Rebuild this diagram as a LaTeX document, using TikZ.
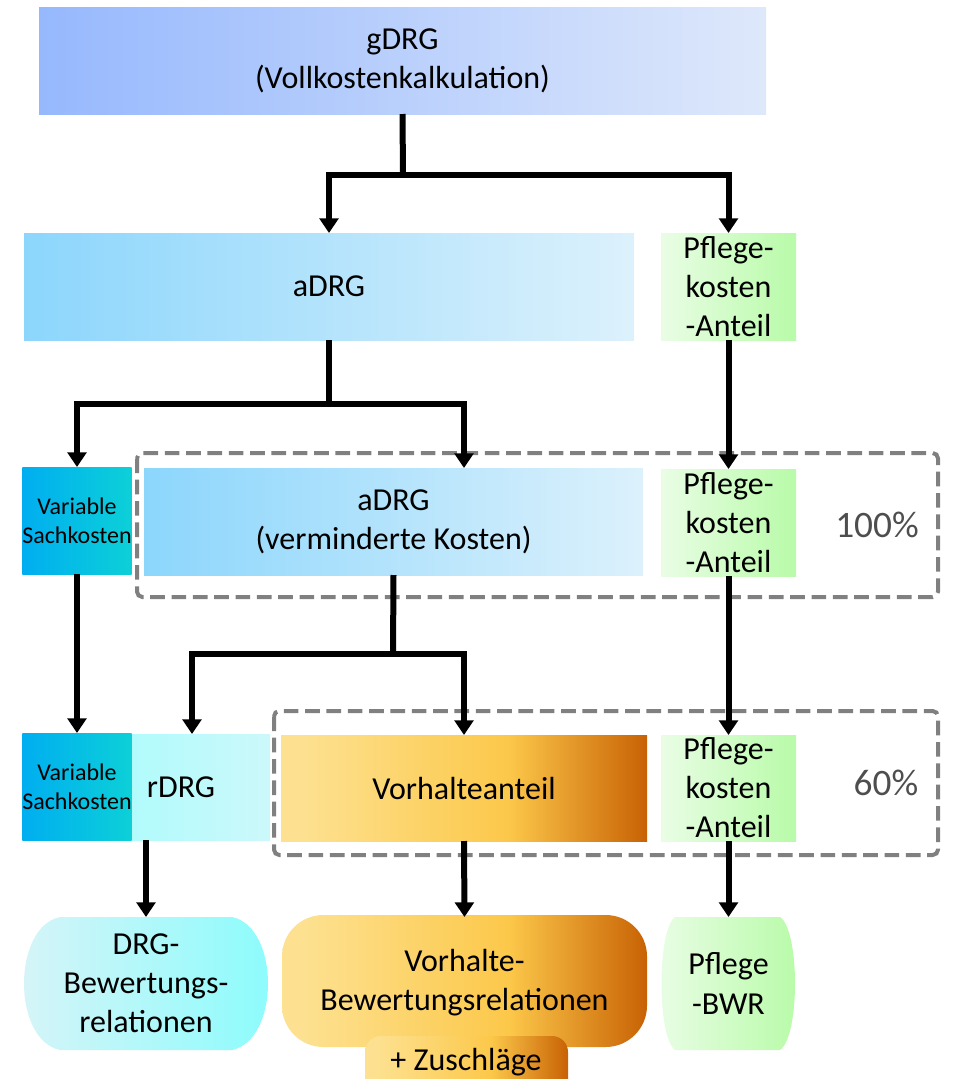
\documentclass[tikz,border=0pt]{standalone}
\usepackage{fontspec}
\setmainfont{Carlito}
\usetikzlibrary{arrows.meta}

% fills
\definecolor{gA}{RGB}{150,184,253}
\definecolor{gB}{RGB}{222,232,251}
\definecolor{aA}{RGB}{140,214,252}
\definecolor{aB}{RGB}{220,241,252}
\definecolor{pA}{RGB}{233,253,229}
\definecolor{pB}{RGB}{184,251,168}
\definecolor{vA}{RGB}{0,174,240}
\definecolor{vB}{RGB}{12,208,216}
\definecolor{rA}{RGB}{170,252,252}
\definecolor{rB}{RGB}{204,248,251}
\definecolor{dA}{RGB}{216,244,248}
\definecolor{dB}{RGB}{138,252,252}
\definecolor{orA}{RGB}{253,225,144}
\definecolor{orB}{RGB}{252,200,74}
\definecolor{orC}{RGB}{200,98,4}
\definecolor{dashgray}{RGB}{128,128,128}
\definecolor{pctgray}{RGB}{78,78,78}

\pgfdeclarehorizontalshading{vorhalt}{100bp}{color(0bp)=(orA); color(28bp)=(orA); color(56bp)=(orB); color(75bp)=(orC); color(100bp)=(orC)}

\newcommand\bigtxt{\fontsize{24}{29.3}\selectfont}
\newcommand\smalltxt{\fontsize{18}{21.8}\selectfont}
\newcommand\pcttxt{\fontsize{28}{34}\selectfont}

\begin{document}
\begin{tikzpicture}[x=0.75pt,y=-0.75pt,
  % a box given by its left, top, right and bottom edge (in px)
  span/.style n args={4}{at={({(#1+#3)/2},{(#2+#4)/2})},
    minimum width={(#3-#1)*0.75pt}, minimum height={(#4-#2)*0.75pt}},
  box/.style={inner sep=0pt, outer sep=0pt, align=center, font=\bigtxt, text=black},
  smallbox/.style={box, font=\smalltxt},
  link/.style={line width=4.5pt, line join=miter},
  arr/.style={link, -{Triangle[width=14pt 0 0,length=11pt 0 0]}},
  dashbox/.style={draw=dashgray, line width=3pt, dash pattern=on 11pt off 5pt, rounded corners=4pt},
  pct/.style={font=\pcttxt, text=pctgray}]

\clip (0,0) rectangle (953,1079);

% ---- dashed groups ----
\draw[dashbox] (137,453) rectangle (938,597);
\draw[dashbox] (274,711) rectangle (938,855);

% ---- row 1 ----
\node[box, span={39}{7}{766}{114}, left color=gA, right color=gB] (gdrg) {gDRG\\(Vollkostenkalkulation)};

% ---- row 2 ----
\node[box, span={24}{233}{634}{340}, left color=aA, right color=aB] (adrg) {aDRG};
\node[box, span={661}{233}{796}{340}, left color=pA, right color=pB] (pfl1) {Pflege-\\kosten\\-Anteil};

% ---- row 3 ----
\node[smallbox, span={24}{467}{130}{574}, left color=vA, right color=vB] (vs1) {Variable\\Sachkosten};
\node[box, span={144}{468}{643}{575}, left color=aA, right color=aB] (adrgv) {aDRG\\(verminderte Kosten)};
\node[box, span={661}{469}{796}{576}, left color=pA, right color=pB] (pfl2) {Pflege-\\kosten\\-Anteil};
\node[pct] (p100) at (877,525) {100\%};

% ---- row 4 ----
\node[box, span={92}{734}{270}{840}, left color=rA, right color=rB] (rdrg) {rDRG};
\node[smallbox, span={24}{733}{130}{840}, left color=vA, right color=vB] (vs2) {Variable\\Sachkosten};
\node[box, span={281}{735}{647}{841}, shade, shading=vorhalt] (vorh) {Vorhalteanteil};
\node[box, span={661}{735}{796}{841}, left color=pA, right color=pB] (pfl3) {Pflege-\\kosten\\-Anteil};
\node[pct] (p60) at (886,783) {60\%};

% ---- row 5: results ----
\shade[left color=dA, right color=dB]
  (60,917) -- (232,917)
  .. controls (280,927) and (280,1040) .. (232,1050)
  -- (60,1050)
  .. controls (12,1040) and (12,927) .. (60,917) -- cycle;
\node[box, span={24}{917}{268}{1050}] (drgbwr) {DRG-\\Bewertungs-\\relationen};

\shade[shading=vorhalt, rounded corners=31pt] (282,915) rectangle (647,1047);
\node[box, span={282}{915}{647}{1047}, yshift=-1.5pt] (vbwr) {Vorhalte-\\Bewertungsrelationen};

\shade[shading=vorhalt, rounded corners=12pt] (365,1036) rectangle (568,1110);
\node[box] (zuschl) at (466,1062) {+ Zuschläge};

\shade[left color=pA, right color=pB]
  (675,917) -- (780,917)
  .. controls (800,930) and (800,1037) .. (780,1050)
  -- (675,1050)
  .. controls (657,1037) and (657,930) .. (675,917) -- cycle;
\node[box, span={662}{917}{795}{1050}] (pbwr) {Pflege\\-BWR};

% ---- connectors ----
\coordinate (j1) at (403,175);
\coordinate (j2) at (329,404);
\coordinate (j3) at (393,654);
\coordinate (adrgvIn) at (464,468);
\coordinate (rdrgIn) at (192,734);
\coordinate (rdrgOut) at (146,840);

\draw[link] (gdrg.south) -- (j1);
\draw[arr] (j1) -| (adrg.north);
\draw[arr] (j1) -| (pfl1.north);

\draw[link] (adrg.south) -- (j2);
\draw[arr] (j2) -| (vs1.north);
\draw[arr] (j2) -| (adrgvIn);

\draw[arr] (pfl1.south) -- (pfl2.north);
\draw[arr] (vs1.south) -- (vs2.north);

\draw[link] (adrgv.south) -- (j3);
\draw[arr] (j3) -| (rdrgIn);
\draw[arr] (j3) -| (vorh.north);

\draw[arr] (pfl2.south) -- (pfl3.north);

\draw[arr] (rdrgOut) -- (drgbwr.north);
\draw[arr] (vorh.south) -- (vbwr.north);
\draw[arr] (pfl3.south) -- (pbwr.north);

\end{tikzpicture}
\end{document}
